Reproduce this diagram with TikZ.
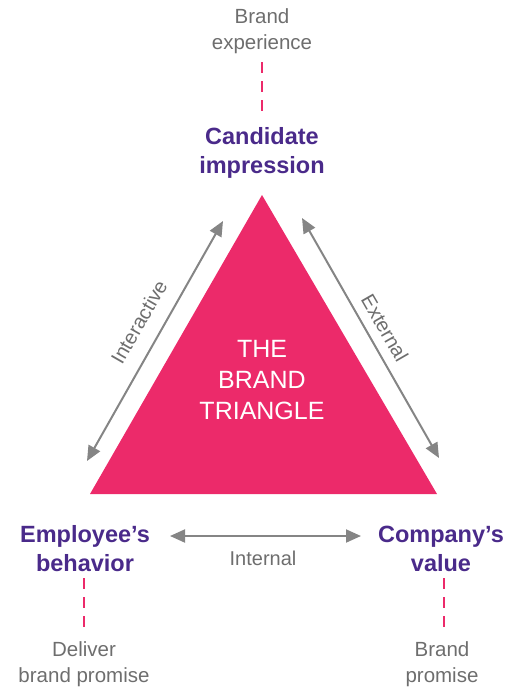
\documentclass[tikz,border=0pt]{standalone}
\usepackage{fontspec}
\setmainfont{Liberation Sans}
\usetikzlibrary{arrows.meta}
\definecolor{brandpink}{HTML}{EC2A6A}
\definecolor{brandpurple}{HTML}{4A2A8A}
\definecolor{softgray}{HTML}{6E6E6E}
\definecolor{arrowgray}{HTML}{858585}
\begin{document}
\begin{tikzpicture}[x=1pt,y=-1pt,
  corner/.style={font=\fontsize{23.5}{29}\selectfont\bfseries, text=brandpurple, align=center, inner sep=0pt},
  note/.style={font=\fontsize{20.5}{26}\selectfont, text=softgray, align=center, inner sep=0pt},
  sidelabel/.style={font=\fontsize{20}{22}\selectfont, text=softgray, inner sep=0pt},
  link/.style={draw=brandpink, line width=2pt, dash pattern=on 11pt off 8pt},
  flow/.style={draw=arrowgray, line width=2pt, {Triangle[length=15pt,width=13pt]}-{Triangle[length=15pt,width=13pt]}}]
  \useasboundingbox (0,0) rectangle (523,689);

  % the triangle
  \fill[brandpink] (262,195) -- (437,494) -- (90,494) -- cycle;
  \node[font=\fontsize{25}{31}\selectfont, text=white, align=center, inner sep=0pt] (title) at (262,380) {THE\\BRAND\\TRIANGLE};

  % corner labels
  \node[corner] (cand) at (262,153) {Candidate\\impression};
  \node[corner] (emp) at (85,549) {Employee’s\\behavior};
  \node[corner] (comp) at (441,549) {Company’s\\value};

  % outer notes
  \node[note] (exp) at (262,31) {Brand\\experience};
  \node[note] (deliver) at (84,664) {Deliver\\brand promise};
  \node[note] (promise) at (442,664) {Brand\\promise};

  % dashed links between notes and corners
  \coordinate (e1) at (262,62);  \coordinate (e2) at (262,118);
  \coordinate (d1) at (84,578);  \coordinate (d2) at (84,634);
  \coordinate (p1) at (444,578); \coordinate (p2) at (444,634);
  \draw[link] (e1) -- (e2);
  \draw[link] (d1) -- (d2);
  \draw[link] (p1) -- (p2);

  % relations along the sides
  \coordinate (ia) at (223,221); \coordinate (ib) at (87,461);
  \coordinate (xa) at (302,218); \coordinate (xb) at (439,458);
  \coordinate (na) at (170,536); \coordinate (nb) at (361,536);
  \draw[flow] (ib) -- (ia);
  \draw[flow] (xa) -- (xb);
  \draw[flow] (na) -- (nb);

  \node[sidelabel, rotate=60] (inter) at (139,322) {Interactive};
  \node[sidelabel, rotate=-60] (ext) at (385,328) {External};
  \node[sidelabel] (int) at (263,558) {Internal};
\end{tikzpicture}
\end{document}
